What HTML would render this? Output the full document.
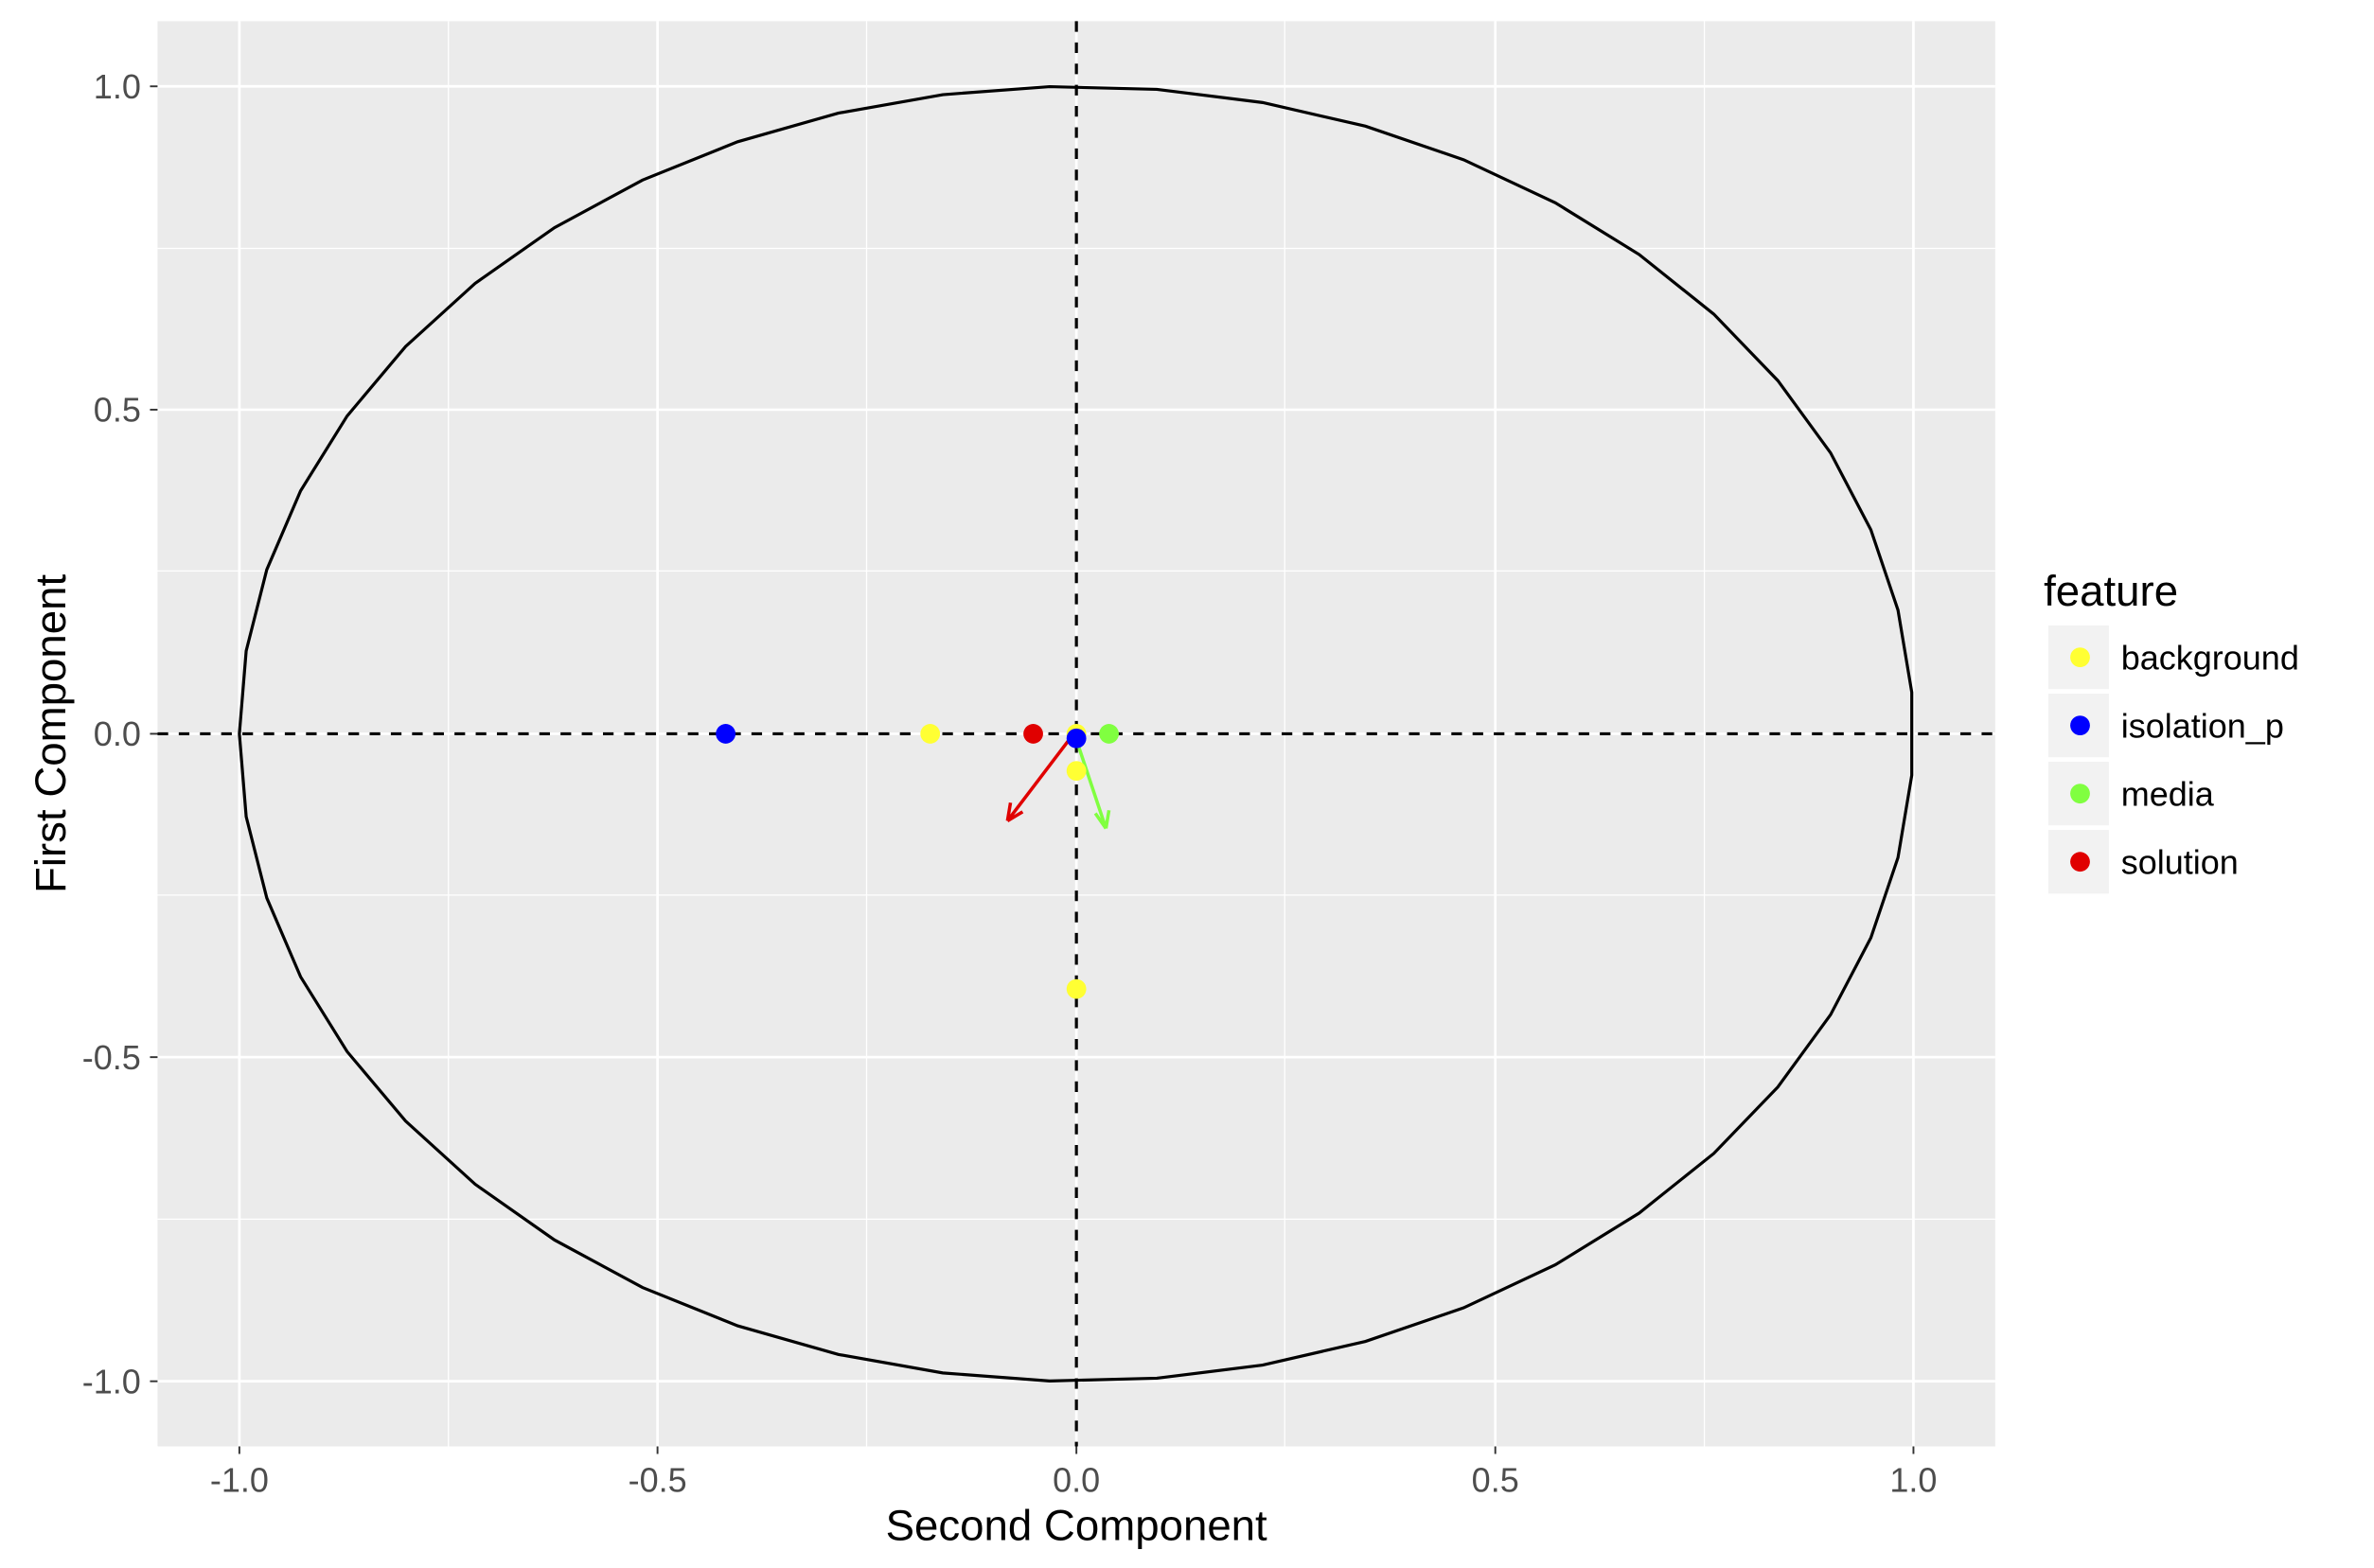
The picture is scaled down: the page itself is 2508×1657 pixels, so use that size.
<!DOCTYPE html>
<html><head><meta charset="utf-8"><style>
html,body{margin:0;padding:0;background:#fff;overflow:hidden;width:2508px;height:1657px;}
svg{display:block;}
text{font-family:"Liberation Sans",Arial,sans-serif;}
</style></head><body>
<svg id="s" width="2508" height="1657" viewBox="0 0 1567 1035.3" preserveAspectRatio="none" xmlns="http://www.w3.org/2000/svg">
<rect x="0" y="0" width="1567" height="1035.3" fill="#fff"/>
<rect x="104" y="14" width="1213" height="941" fill="#ebebeb"/>
<g stroke="#fff" stroke-width="0.8">
<line x1="296" y1="14" x2="296" y2="955"/><line x1="572" y1="14" x2="572" y2="955"/>
<line x1="848" y1="14" x2="848" y2="955"/><line x1="1125" y1="14" x2="1125" y2="955"/>
<line x1="104" y1="164" x2="1317" y2="164"/><line x1="104" y1="377" x2="1317" y2="377"/>
<line x1="104" y1="591" x2="1317" y2="591"/><line x1="104" y1="805" x2="1317" y2="805"/>
</g>
<g stroke="#fff" stroke-width="1.7">
<line x1="158" y1="14" x2="158" y2="955"/><line x1="434" y1="14" x2="434" y2="955"/>
<line x1="710.5" y1="14" x2="710.5" y2="955"/><line x1="987" y1="14" x2="987" y2="955"/>
<line x1="1263" y1="14" x2="1263" y2="955"/>
<line x1="104" y1="57" x2="1317" y2="57"/><line x1="104" y1="270.5" x2="1317" y2="270.5"/>
<line x1="104" y1="484.5" x2="1317" y2="484.5"/><line x1="104" y1="698" x2="1317" y2="698"/>
<line x1="104" y1="912" x2="1317" y2="912"/>
</g>
<polygon id="circ" fill="none" stroke="#000" stroke-width="2" points=""/>
<g stroke="#000" stroke-width="2" stroke-dasharray="7,7">
<line x1="710.5" y1="14" x2="710.5" y2="955"/>
<line x1="104" y1="484.5" x2="1317" y2="484.5"/>
</g>
<g stroke-width="2.2" fill="none">
<path d="M706,488 L665,542 M665,542 L667,530 M665,542 L675,536" stroke="#e00000"/>
<path d="M711,490 L730,547 M730,547 L723,537 M730,547 L732,535" stroke="#80ff40"/>
</g>
<g>
<circle cx="479" cy="484.5" r="6.5" fill="#0000ff"/>
<circle cx="614" cy="484.5" r="6.5" fill="#ffff33"/>
<circle cx="682" cy="484.5" r="6.5" fill="#e00000"/>
<circle cx="732" cy="484.5" r="6.5" fill="#80ff40"/>
<circle cx="710.5" cy="484.5" r="6.5" fill="#ffff33"/>
<circle cx="710.5" cy="509" r="6.5" fill="#ffff33"/>
<circle cx="710.5" cy="653" r="6.5" fill="#ffff33"/>
<circle cx="710.5" cy="487.5" r="6.5" fill="#0000ff"/>
</g>
<g stroke="#333" stroke-width="1.2">
<line x1="158" y1="955" x2="158" y2="960"/><line x1="434" y1="955" x2="434" y2="960"/>
<line x1="710.5" y1="955" x2="710.5" y2="960"/><line x1="987" y1="955" x2="987" y2="960"/>
<line x1="1263" y1="955" x2="1263" y2="960"/>
<line x1="99" y1="57" x2="104" y2="57"/><line x1="99" y1="270.5" x2="104" y2="270.5"/>
<line x1="99" y1="484.5" x2="104" y2="484.5"/><line x1="99" y1="698" x2="104" y2="698"/>
<line x1="99" y1="912" x2="104" y2="912"/>
</g>
<g fill="#4d4d4d" font-size="22.5" text-anchor="middle">
<text x="158" y="985">-1.0</text><text x="434" y="985">-0.5</text><text x="710.5" y="985">0.0</text>
<text x="987" y="985">0.5</text><text x="1263" y="985">1.0</text>
</g>
<g fill="#4d4d4d" font-size="22.5" text-anchor="end">
<text x="93" y="65">1.0</text><text x="93" y="278.5">0.5</text><text x="93" y="492.5">0.0</text>
<text x="93" y="706">-0.5</text><text x="93" y="920">-1.0</text>
</g>
<text x="710.5" y="1017" font-size="28.5" text-anchor="middle" fill="#000">Second Component</text>
<text transform="translate(43,484.5) rotate(-90)" font-size="28.5" text-anchor="middle" fill="#000">First Component</text>
<text x="1349" y="400" font-size="28.5" fill="#000">feature</text>
<g fill="#f2f2f2">
<rect x="1352" y="413" width="40" height="42"/><rect x="1352" y="458" width="40" height="42"/>
<rect x="1352" y="503" width="40" height="42"/><rect x="1352" y="548" width="40" height="42"/>
</g>
<circle cx="1373" cy="434" r="6.5" fill="#ffff33"/>
<circle cx="1373" cy="479" r="6.5" fill="#0000ff"/>
<circle cx="1373" cy="524" r="6.5" fill="#80ff40"/>
<circle cx="1373" cy="569" r="6.5" fill="#e00000"/>
<g font-size="22.5" fill="#000">
<text x="1400" y="442">background</text><text x="1400" y="487">isolation_p</text>
<text x="1400" y="532">media</text><text x="1400" y="577">solution</text>
</g>
</svg>
<script>
var p=[];for(var k=0;k<50;k++){var t=-Math.PI+k*2*Math.PI/49;p.push((710.5+552.5*Math.cos(t)).toFixed(1)+","+(484.5-427.5*Math.sin(t)).toFixed(1));}
document.getElementById("circ").setAttribute("points",p.join(" "));
</script>
</body></html>
